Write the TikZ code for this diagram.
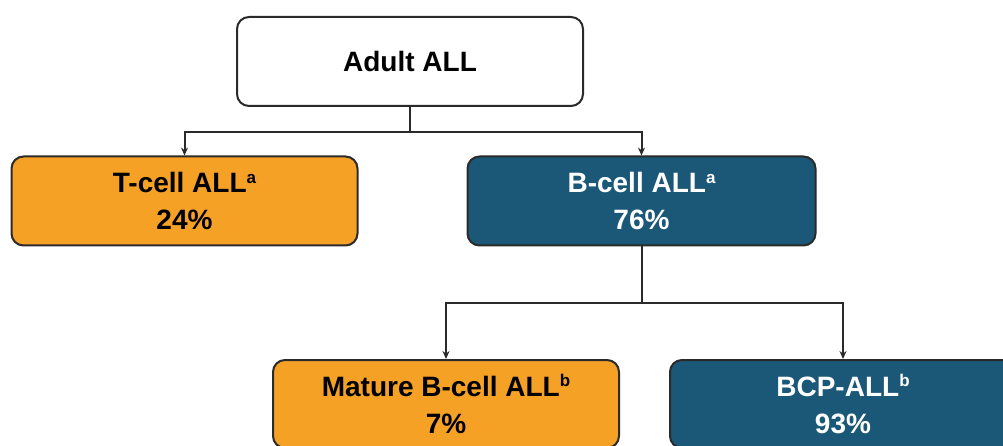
\documentclass[tikz,border=0pt]{standalone}
\usepackage{fontspec}
\setmainfont{Liberation Sans}
\usetikzlibrary{arrows.meta}
\definecolor{orangebox}{HTML}{F5A126}
\definecolor{tealbox}{HTML}{1B5878}
\definecolor{edgegray}{HTML}{2A2A2A}
\newcommand{\supmark}[1]{\raisebox{0.33em}{\fontsize{17}{17}\selectfont #1}}
\tikzset{
  boxbase/.style={rounded corners=12pt, draw=edgegray, line width=2pt, minimum width=346pt, minimum height=89pt, align=center, font=\fontsize{28}{37}\selectfont\bfseries, inner sep=0pt},
  whitebox/.style={boxbase, fill=white, text=black},
  orangenode/.style={boxbase, fill=orangebox, text=black},
  tealnode/.style={boxbase, fill=tealbox, text=white},
  conn/.style={draw=edgegray, line width=2pt},
  arr/.style={conn, -{Stealth[length=8pt,width=7pt]}}
}
\begin{document}
\begin{tikzpicture}[x=1pt,y=-1pt]
\useasboundingbox (0,0) rectangle (1003,446);
\begin{scope}
\clip (0,0) rectangle (1003,446);
\node[whitebox] (adult) at (410,61.5) {Adult ALL};
\node[orangenode] (tcell) at (184.5,201) {T-cell ALL\supmark{a}\\24\%};
\node[tealnode, minimum width=348pt] (bcell) at (641.5,201) {B-cell ALL\supmark{a}\\76\%};
\node[orangenode, minimum height=88pt] (mature) at (446,404) {Mature B-cell ALL\supmark{b}\\7\%};
\node[tealnode, minimum height=88pt] (bcp) at (843,404) {BCP-ALL\supmark{b}\\93\%};
\coordinate (j1) at (410,132);
\coordinate (j2) at (641.5,303);
\draw[conn] (adult.south) -- (j1);
\draw[arr] (j1) -| (tcell.north);
\draw[arr] (j1) -| (bcell.north);
\draw[conn] (bcell.south) -- (j2);
\draw[arr] (j2) -| (mature.north);
\draw[arr] (j2) -| (bcp.north);
\end{scope}
\end{tikzpicture}
\end{document}
